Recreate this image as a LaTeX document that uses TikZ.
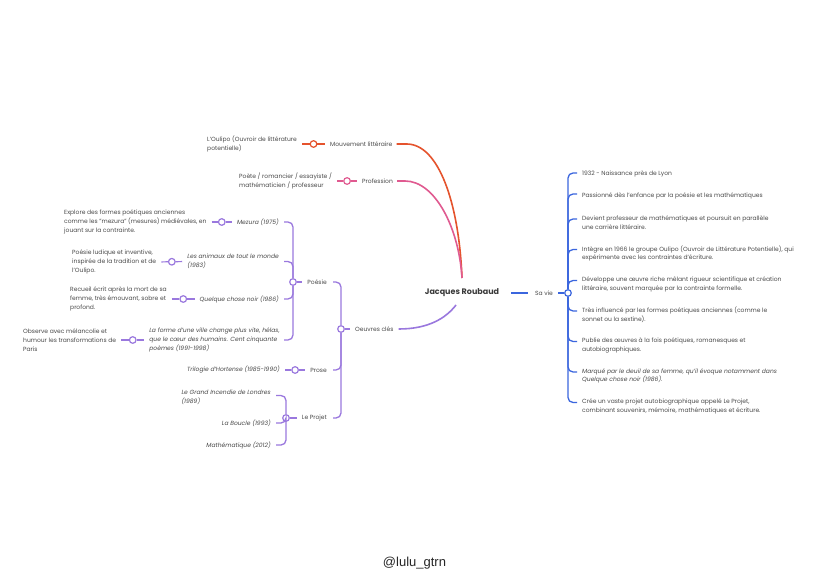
\documentclass[tikz,border=0pt]{standalone}
\usepackage{fontspec}
\setmainfont{Poppins}
\newfontfamily\sigfont{Liberation Sans}
\usetikzlibrary{calc}
\definecolor{cred}{HTML}{E5532D}
\definecolor{cpink}{HTML}{E05A90}
\definecolor{cpurp}{HTML}{9A78DE}
\definecolor{cblue}{HTML}{3B66DE}
\definecolor{txtgray}{HTML}{4A4A4A}
\definecolor{rootgray}{HTML}{3A3A3A}
\tikzset{
  txt/.style={font=\fontsize{6}{8.8}\selectfont, text=txtgray, inner sep=0pt, align=left},
  itx/.style={font=\fontsize{6}{8.8}\selectfont\itshape, text=txtgray, inner sep=0pt, align=left},
  dot/.style={circle, draw=#1, fill=white, line width=1.2pt, minimum size=6.6pt, inner sep=0pt},
  tick/.style={draw=#1, line width=1.2pt},
  brk/.style={draw=#1, line width=1.3pt, rounded corners=5pt},
  mainline/.style={draw=#1, line width=1.6pt},
}
\begin{document}
\begin{tikzpicture}[x=1pt,y=-1pt]
\fill[white] (0,0) rectangle (828,586);
\useasboundingbox (0,0) rectangle (828,586);

% root
\node[font=\fontsize{8}{9}\selectfont\bfseries, text=rootgray, inner sep=0pt] (root) at (462,293) {Jacques Roubaud};
\coordinate (rtop) at ($(root.center)+(0,-15)$);
\coordinate (rbot) at ($(root.center)+(-6,12)$);
\coordinate (rright) at ($(root.east)+(12,0)$);

% ---------- top: Mouvement / Profession
\node[txt, anchor=west] (mouv) at (330,144) {Mouvement littéraire};
\node[txt, anchor=west] (oulipo) at (207,144) {L'Oulipo (Ouvroir de littérature\\potentielle)};
\node[dot=cred] (dmouv) at ($(oulipo.east)!0.5!(mouv.west)$) {};
\draw[tick=cred, shorten <=5pt] (oulipo.east) -- (dmouv);
\draw[tick=cred, shorten >=5pt] (dmouv) -- (mouv.west);
\draw[mainline=cred] ([xshift=4pt]mouv.east) -- ++(10,0) .. controls +(32,0) and +(-3,-75) .. (rtop);

\node[txt, anchor=west] (prof) at (362,181) {Profession};
\node[txt, anchor=west] (poete) at (239,181) {Poète / romancier / essayiste /\\mathématicien / professeur};
\node[dot=cpink] (dprof) at ($(poete.east)!0.5!(prof.west)$) {};
\draw[tick=cpink, shorten <=5pt] (poete.east) -- (dprof);
\draw[tick=cpink, shorten >=5pt] (dprof) -- (prof.west);
\draw[mainline=cpink] ([xshift=4pt]prof.east) -- ++(8,0) .. controls +(30,0) and +(-3,-50) .. (rtop);

% ---------- left: Oeuvres clés
\node[txt, anchor=west] (oeuvres) at (355,329) {Oeuvres clés};
\node[dot=cpurp] (doe) at (341,329) {};
\draw[tick=cpurp, shorten >=5pt] (doe) -- (oeuvres.west);
\draw[mainline=cpurp] ([xshift=5pt]oeuvres.east) .. controls +(30,0) and +(-10,13) .. (rbot);

\node[txt, anchor=east] (poesie) at (327,282) {Poésie};
\node[txt, anchor=east] (prose) at (327,370) {Prose};
\node[txt, anchor=east] (projet) at (327,418) {Le Projet};
\draw[brk=cpurp] (doe) |- ([xshift=6pt]poesie.east);
\draw[brk=cpurp] (doe) |- ([xshift=6pt]prose.east);
\draw[brk=cpurp] (doe) |- ([xshift=6pt]projet.east);

% Poésie
\node[dot=cpurp] (dpo) at (293,282) {};
\draw[tick=cpurp, shorten >=5pt] (dpo) -- (poesie.west);
\node[itx, anchor=east] (mezura) at (279,222) {Mezura (1975)};
\node[itx, anchor=east] (animaux) at (279,261.5) {Les animaux de tout le monde\\(1983)};
\node[itx, anchor=east] (quelque) at (279,299) {Quelque chose noir (1986)};
\node[itx, anchor=east] (forme) at (280,340) {La forme d'une ville change plus vite, hélas,\\que le cœur des humains. Cent cinquante\\poèmes (1991-1998)};
\draw[brk=cpurp] (dpo) |- ([xshift=5pt]mezura.east);
\draw[brk=cpurp] (dpo) |- ([xshift=5pt]animaux.east);
\draw[brk=cpurp] (dpo) |- ([xshift=5pt]quelque.east);
\draw[brk=cpurp] (dpo) |- ([xshift=4pt]forme.east);

\node[txt, anchor=west] (explore) at (64,222) {Explore des formes poétiques anciennes\\comme les "mezura" (mesures) médiévales, en\\jouant sur la contrainte.};
\node[dot=cpurp] (dex) at ($(explore.east)!0.5!(mezura.west)$) {};
\draw[tick=cpurp, shorten <=5pt] (explore.east) -- (dex);
\draw[tick=cpurp, shorten >=5pt] (dex) -- (mezura.west);

\node[txt, anchor=west] (ludique) at (72,262) {Poésie ludique et inventive,\\inspirée de la tradition et de\\l'Oulipo.};
\node[dot=cpurp] (dlu) at ($(ludique.east)!0.5!(animaux.west)$) {};
\draw[tick=cpurp, shorten <=5pt] (ludique.east) -- (dlu);
\draw[tick=cpurp, shorten >=5pt] (dlu) -- (animaux.west);

\node[txt, anchor=west] (recueil) at (70,299) {Recueil écrit après la mort de sa\\femme, très émouvant, sobre et\\profond.};
\node[dot=cpurp] (dre) at ($(recueil.east)!0.5!(quelque.west)$) {};
\draw[tick=cpurp, shorten <=5pt] (recueil.east) -- (dre);
\draw[tick=cpurp, shorten >=5pt] (dre) -- (quelque.west);

\node[txt, anchor=west] (observe) at (23,340) {Observe avec mélancolie et\\humour les transformations de\\Paris};
\node[dot=cpurp] (dob) at ($(observe.east)!0.5!(forme.west)$) {};
\draw[tick=cpurp, shorten <=5pt] (observe.east) -- (dob);
\draw[tick=cpurp, shorten >=5pt] (dob) -- (forme.west);

% Prose
\node[itx, anchor=east] (trilogie) at (280,370) {Trilogie d'Hortense (1985-1990)};
\node[dot=cpurp] (dpr) at ($(trilogie.east)!0.5!(prose.west)$) {};
\draw[tick=cpurp, shorten <=5pt] (trilogie.east) -- (dpr);
\draw[tick=cpurp, shorten >=5pt] (dpr) -- (prose.west);

% Le Projet
\node[dot=cpurp] (dpj) at (286,418) {};
\draw[tick=cpurp, shorten >=5pt] (dpj) -- (projet.west);
\node[itx, anchor=east] (incendie) at (271,397.5) {Le Grand Incendie de Londres\\(1989)};
\node[itx, anchor=east] (boucle) at (271,423) {La Boucle (1993)};
\node[itx, anchor=east] (mathem) at (271,445) {Mathématique (2012)};
\draw[brk=cpurp] (dpj) |- ([xshift=5pt,yshift=2pt]incendie.east);
\draw[brk=cpurp] (dpj) |- ([xshift=5pt]boucle.east);
\draw[brk=cpurp] (dpj) |- ([xshift=5pt]mathem.east);

% ---------- right: Sa vie
\node[txt, anchor=west] (savie) at (535,293) {Sa vie};
\draw[mainline=cblue] (rright) -- ([xshift=-7pt]savie.west);
\node[dot=cblue] (dsv) at (568,293) {};
\draw[tick=cblue, shorten <=5pt] (savie.east) -- (dsv);

\node[txt, anchor=west] (v1) at (582,174) {1932 - Naissance près de Lyon};
\node[txt, anchor=west] (v2) at (582,196) {Passionné dès l'enfance par la poésie et les mathématiques};
\node[txt, anchor=west] (v3) at (582,223) {Devient professeur de mathématiques et poursuit en parallèle\\une carrière littéraire.};
\node[txt, anchor=west] (v4) at (582,253.5) {Intègre en 1966 le groupe Oulipo (Ouvroir de Littérature Potentielle), qui\\expérimente avec les contraintes d'écriture.};
\node[txt, anchor=west] (v5) at (582,284.5) {Développe une œuvre riche mêlant rigueur scientifique et création\\littéraire, souvent marquée par la contrainte formelle.};
\node[txt, anchor=west] (v6) at (582,315) {Très influencé par les formes poétiques anciennes (comme le\\sonnet ou la sextine).};
\node[txt, anchor=west] (v7) at (582,345.5) {Publie des œuvres à la fois poétiques, romanesques et\\autobiographiques.};
\node[itx, anchor=west] (v8) at (582,376) {Marqué par le deuil de sa femme, qu'il évoque notamment dans\\Quelque chose noir (1986).};
\node[txt, anchor=west] (v9) at (582,406.5) {Crée un vaste projet autobiographique appelé Le Projet,\\combinant souvenirs, mémoire, mathématiques et écriture.};
\draw[brk=cblue] (dsv) |- ([xshift=-5pt,yshift=1pt]v1.west);
\draw[brk=cblue] (dsv) |- ([xshift=-5pt,yshift=2pt]v2.west);
\foreach \n in {v3,v4,v5,v6,v7,v8,v9}{
  \draw[brk=cblue] (dsv) |- ([xshift=-5pt,yshift=4pt]\n.west);
}

% signature
\node[font=\fontsize{13}{15}\selectfont\sigfont, text=black!85, inner sep=0pt] (sig) at (414.5,563) {@lulu\_gtrn};
\end{tikzpicture}
\end{document}
